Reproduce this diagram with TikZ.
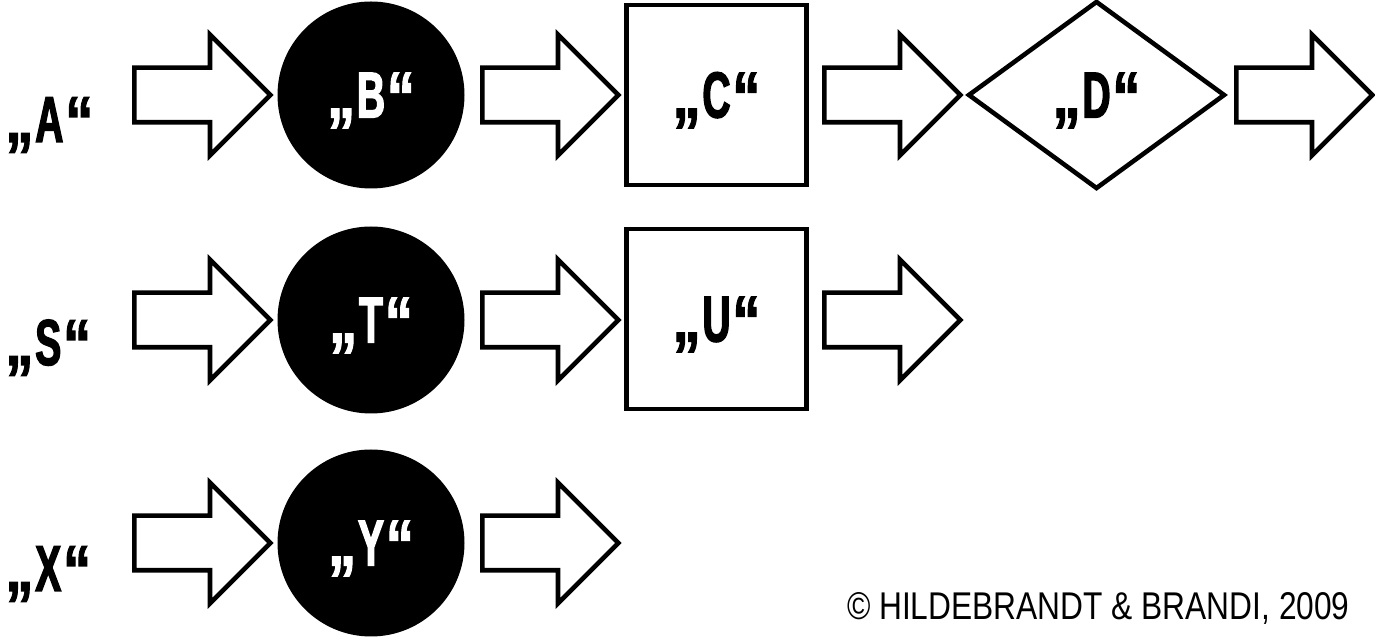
\documentclass[tikz,border=0pt]{standalone}
\usepackage{fontspec}
\usepackage{tikz}
\usetikzlibrary{shapes.geometric, shapes.arrows, positioning}
\newfontfamily\narrowfont[FakeStretch=0.6, FakeBold=2]{Liberation Sans}
\newfontfamily\quotefont[FakeStretch=0.8, FakeBold=1.5]{Liberation Sans}
\newfontfamily\creditfont[FakeStretch=0.82]{Liberation Sans}
% German quotes around a single letter
\newcommand{\quoted}[1]{{\quotefont\fontsize{40}{44}\selectfont„}\kern1pt#1\kern1pt%
  \raisebox{-2pt}{\quotefont\fontsize{40}{44}\selectfont“}}

\begin{document}
\begin{tikzpicture}[every node/.style={font=\narrowfont\bfseries\fontsize{37}{40}\selectfont}]
    \tikzset{fat/.style={single arrow, draw, line width=2.6pt, fill=white, anchor=tail,
                         inner xsep=0pt, inner ysep=0.5cm, minimum height=2.72cm,
                         single arrow head extend=0.66cm, single arrow tip angle=90},
             step text/.style={text height=0.9cm, text depth=0pt},
             blob/.style={circle, fill=black, text=white, minimum size=3.74cm,
                          inner sep=0pt, step text},
             box/.style={rectangle, draw, line width=2.6pt, minimum size=3.6cm,
                         inner sep=0pt, step text},
             rhomb/.style={diamond, draw, line width=2.6pt, minimum width=5.14cm,
                           minimum height=3.76cm, inner sep=0pt, step text},
             tag/.style={anchor=base west, inner sep=0pt}}
    \useasboundingbox (0,0) rectangle (27.5,-12.74);
    % input labels
    \node[tag] (a) at (0.1,-2.84) {\quoted{A}};
    \node[tag] (s) at (0.1,-7.3) {\quoted{S}};
    \node[tag] (x) at (0.1,-11.82) {\quoted{X}};
    % steps
    \node[blob] (b) at (7.42,-1.9) {\quoted{B}};
    \node[box]  (c) at (14.33,-1.9) {\quoted{C}};
    \node[rhomb] (d) at (21.93,-1.9) {\quoted{D}};
    \node[blob] (t) at (7.42,-6.4) {\quoted{T}};
    \node[box]  (u) at (14.33,-6.38) {\quoted{U}};
    \node[blob] (y) at (7.42,-10.86) {\quoted{Y}};
    % block arrows between the steps, placed by their tails
    \foreach \n/\px/\py in {ab/2.64/-1.9, bc/9.6/-1.9, cd/16.44/-1.9, dout/24.68/-1.9,
                            st/2.64/-6.4, tu/9.6/-6.4, uout/16.44/-6.4,
                            xy/2.64/-10.86, yout/9.6/-10.86}
      \node[fat] (\n) at (\px,\py) {};
    \node[anchor=base east, inner sep=0pt, font=\creditfont\fontsize{22}{24}\selectfont]
        (credit) at (27.0,-12.4) {© HILDEBRANDT \& BRANDI, 2009};
\end{tikzpicture}
\end{document}
